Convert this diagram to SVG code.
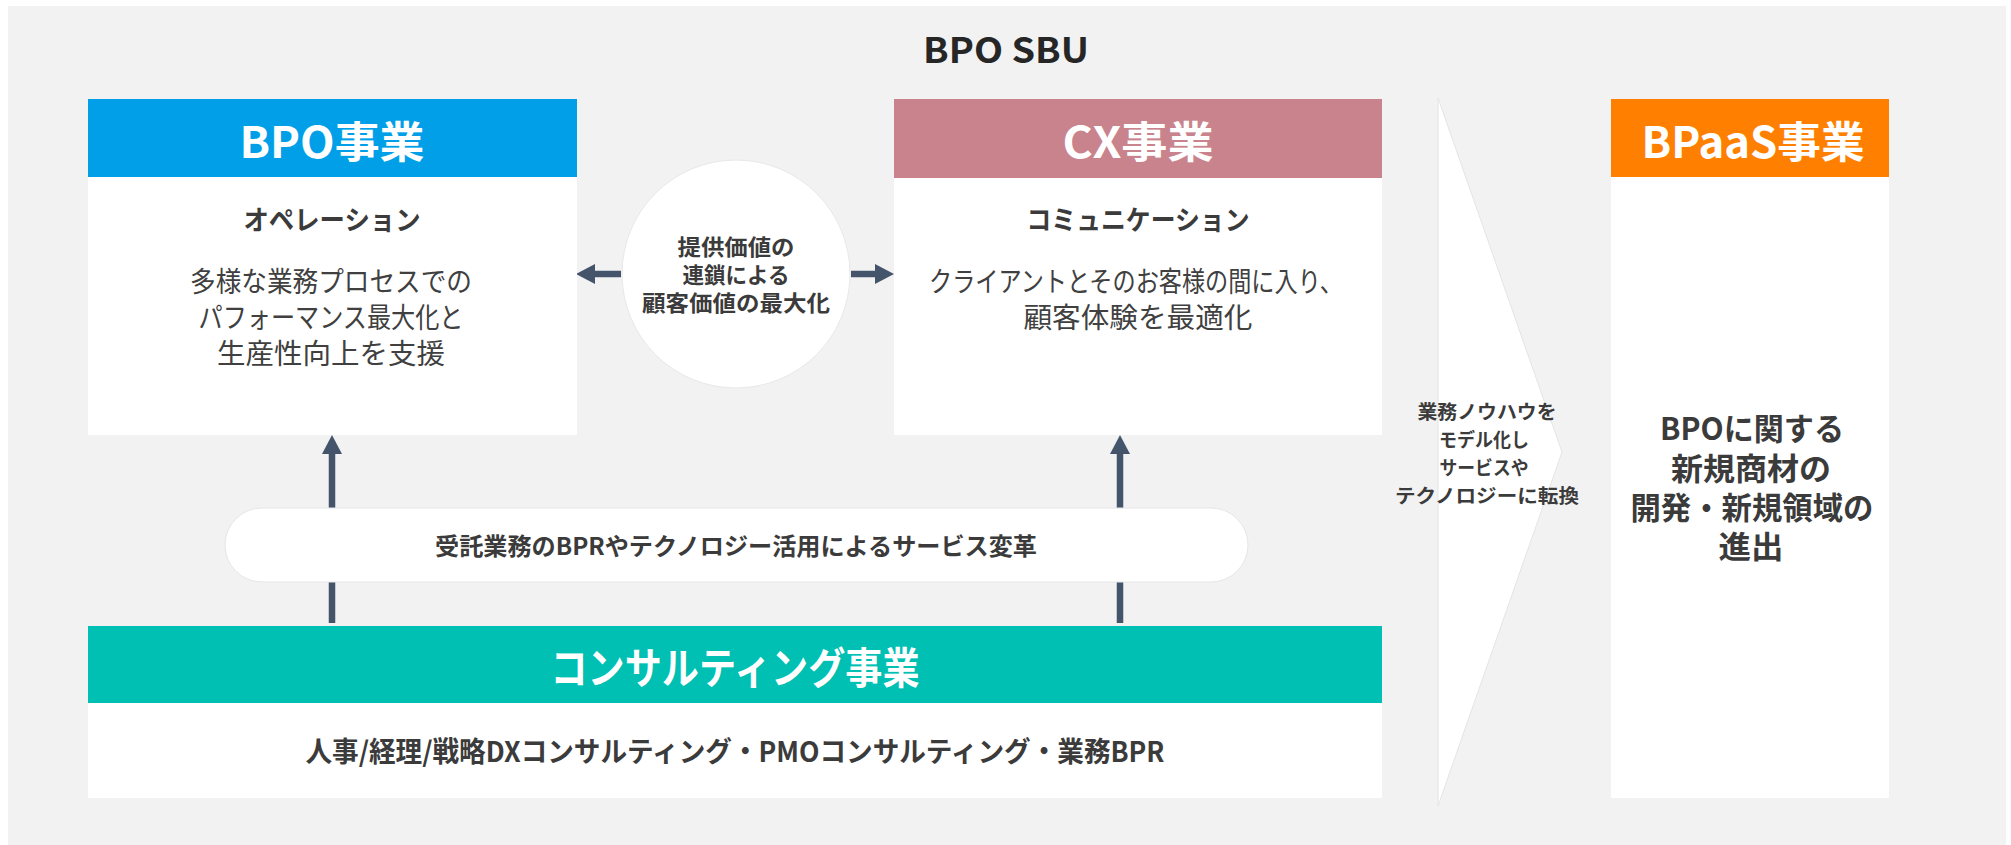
<svg xmlns="http://www.w3.org/2000/svg" width="2011" height="845" viewBox="0 0 2011 845">
<defs>
<style>
text{font-family:"Noto Sans CJK JP","Noto Sans",sans-serif;text-anchor:middle;}
.hd{font-size:43px;font-weight:bold;fill:#FFFFFF;}
.sub{font-size:27px;font-weight:bold;fill:#3B3B3B;}
.body{font-size:28px;fill:#404040;}
.bold{font-weight:bold;fill:#3B3B3B;}
.box{fill:#FFFFFF;}
.conn{stroke:#44546A;stroke-width:6.5;fill:none;marker-end:url(#ah);}
</style>
<marker id="ah" markerUnits="userSpaceOnUse" markerWidth="20" markerHeight="20" refX="0" refY="10" orient="auto">
<path d="M0,0 L19,10 L0,20 Z" fill="#44546A"/>
</marker>
</defs>
<rect x="0" y="0" width="2011" height="845" fill="#FFFFFF"/>
<rect x="8" y="6" width="1998" height="839" fill="#F2F2F2"/>
<text x="1006" y="63" font-size="35" font-weight="bold" fill="#262626" textLength="166" lengthAdjust="spacingAndGlyphs">BPO SBU</text>

<g id="connectors">
<line class="conn" x1="332" y1="623" x2="332" y2="454"/>
<line class="conn" x1="1120" y1="623" x2="1120" y2="454"/>
<line class="conn" x1="621" y1="274" x2="595" y2="274"/>
<line class="conn" x1="851" y1="274" x2="875" y2="274"/>
</g>

<g id="bpo">
<rect class="box" x="88" y="99" width="489" height="336"/>
<rect x="88" y="99" width="489" height="78" fill="#009FE8"/>
<text class="hd" x="332" y="158" textLength="185" lengthAdjust="spacingAndGlyphs">BPO事業</text>
<text class="sub" x="332" y="230" textLength="177" lengthAdjust="spacingAndGlyphs">オペレーション</text>
<text class="body" x="331" y="292" textLength="282" lengthAdjust="spacingAndGlyphs">多様な業務プロセスでの</text>
<text class="body" x="331" y="328" textLength="265" lengthAdjust="spacingAndGlyphs">パフォーマンス最大化と</text>
<text class="body" x="331" y="364" textLength="228" lengthAdjust="spacingAndGlyphs">生産性向上を支援</text>
</g>

<g id="value-chain">
<circle cx="736" cy="274" r="114" fill="#FFFFFF" stroke="#E8E8E8" stroke-width="1"/>
<text class="bold" x="736" y="255" font-size="22" textLength="117" lengthAdjust="spacingAndGlyphs">提供価値の</text>
<text class="bold" x="736" y="283" font-size="22" textLength="107" lengthAdjust="spacingAndGlyphs">連鎖による</text>
<text class="bold" x="736" y="311" font-size="22" textLength="188" lengthAdjust="spacingAndGlyphs">顧客価値の最大化</text>
</g>

<g id="cx">
<rect class="box" x="894" y="99" width="488" height="336"/>
<rect x="894" y="99" width="488" height="79" fill="#C8838C"/>
<text class="hd" x="1138" y="158" textLength="151" lengthAdjust="spacingAndGlyphs">CX事業</text>
<text class="sub" x="1138" y="230" textLength="223" lengthAdjust="spacingAndGlyphs">コミュニケーション</text>
<text class="body" x="1136" y="292" textLength="414" lengthAdjust="spacingAndGlyphs">クライアントとそのお客様の間に入り、</text>
<text class="body" x="1138" y="328" textLength="229" lengthAdjust="spacingAndGlyphs">顧客体験を最適化</text>
</g>

<g id="transformation">
<rect x="225" y="508" width="1023" height="74" rx="37" ry="37" fill="#FFFFFF" stroke="#E6E6E6" stroke-width="1"/>
<text class="bold" x="736" y="555" font-size="24" textLength="602" lengthAdjust="spacingAndGlyphs">受託業務のBPRやテクノロジー活用によるサービス変革</text>
</g>

<g id="consulting">
<rect class="box" x="88" y="626" width="1294" height="172"/>
<rect x="88" y="626" width="1294" height="77" fill="#00BFB3"/>
<text class="hd" x="735" y="684" textLength="369" lengthAdjust="spacingAndGlyphs">コンサルティング事業</text>
<text class="bold" x="735" y="762" font-size="28" textLength="859" lengthAdjust="spacingAndGlyphs">人事/経理/戦略DXコンサルティング・PMOコンサルティング・業務BPR</text>
</g>

<g id="transfer">
<polygon points="1438,98 1562,452 1438,806" fill="#FFFFFF" stroke="#E4E4E4" stroke-width="1"/>
<text class="bold" x="1487" y="419" font-size="19" textLength="139" lengthAdjust="spacingAndGlyphs">業務ノウハウを</text>
<text class="bold" x="1484" y="447" font-size="19" textLength="90" lengthAdjust="spacingAndGlyphs">モデル化し</text>
<text class="bold" x="1484" y="475" font-size="19" textLength="89" lengthAdjust="spacingAndGlyphs">サービスや</text>
<text class="bold" x="1487" y="503" font-size="19" textLength="184" lengthAdjust="spacingAndGlyphs">テクノロジーに転換</text>
</g>

<g id="bpaas">
<rect class="box" x="1611" y="99" width="278" height="699"/>
<rect x="1611" y="99" width="278" height="78" fill="#FF8000"/>
<text class="hd" x="1753" y="158" textLength="223" lengthAdjust="spacingAndGlyphs">BPaaS事業</text>
<text class="bold" x="1752" y="440" font-size="31" textLength="184" lengthAdjust="spacingAndGlyphs">BPOに関する</text>
<text class="bold" x="1751" y="480" font-size="31" textLength="160" lengthAdjust="spacingAndGlyphs">新規商材の</text>
<text class="bold" x="1752" y="519" font-size="31" textLength="243" lengthAdjust="spacingAndGlyphs">開発・新規領域の</text>
<text class="bold" x="1751" y="558" font-size="31" textLength="65" lengthAdjust="spacingAndGlyphs">進出</text>
</g>
</svg>
